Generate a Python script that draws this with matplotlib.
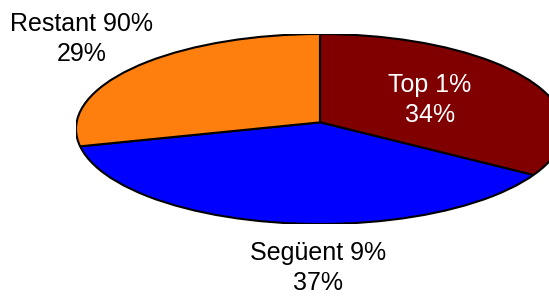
import matplotlib.pyplot as plt
from matplotlib.patches import Ellipse

labels = ['Top 1%', 'Següent 9%', 'Restant 90%']
shares = [34, 37, 29]
colors = ['#800000', '#0000ff', '#ff7f0e']

plt.rcParams['font.family'] = ['Liberation Sans', 'DejaVu Sans']

fig = plt.figure(figsize=(5.49, 2.96), dpi=100)
# ellipse: x 76..564 px, y 34..224 px from top
ax = fig.add_axes([76 / 549, 72 / 296, 488 / 549, 190 / 296])

# tilted look: apex sits a bit above the ellipse centre, wedges clipped to the ellipse
rim = Ellipse((0, 0), 2, 2, facecolor='none', edgecolor='black', linewidth=1.5, zorder=3)
ax.add_patch(rim)
wedges, _ = ax.pie(shares, colors=colors, startangle=90, counterclock=False,
                   center=(0, 0.07), radius=1.3,
                   wedgeprops=dict(edgecolor='black', linewidth=1.5))
for w in wedges:
    w.set_clip_on(True)
    w.set_clip_path(rim)
ax.set_aspect('auto')
ax.set_xlim(-1, 1)
ax.set_ylim(-1, 1)
ax.axis('off')

# label positions in pixels (x, y from top)
pos = [(430, 100), (318, 268), (82, 39)]
txt_colors = ['white', 'black', 'black']
for lab, s, (px, py), c in zip(labels, shares, pos, txt_colors):
    fig.text(px / 549, 1 - py / 296, f'{lab}\n{s}%', ha='center', va='center',
             fontsize=18, color=c, linespacing=1.3)

fig.savefig('out.png', dpi=100)
